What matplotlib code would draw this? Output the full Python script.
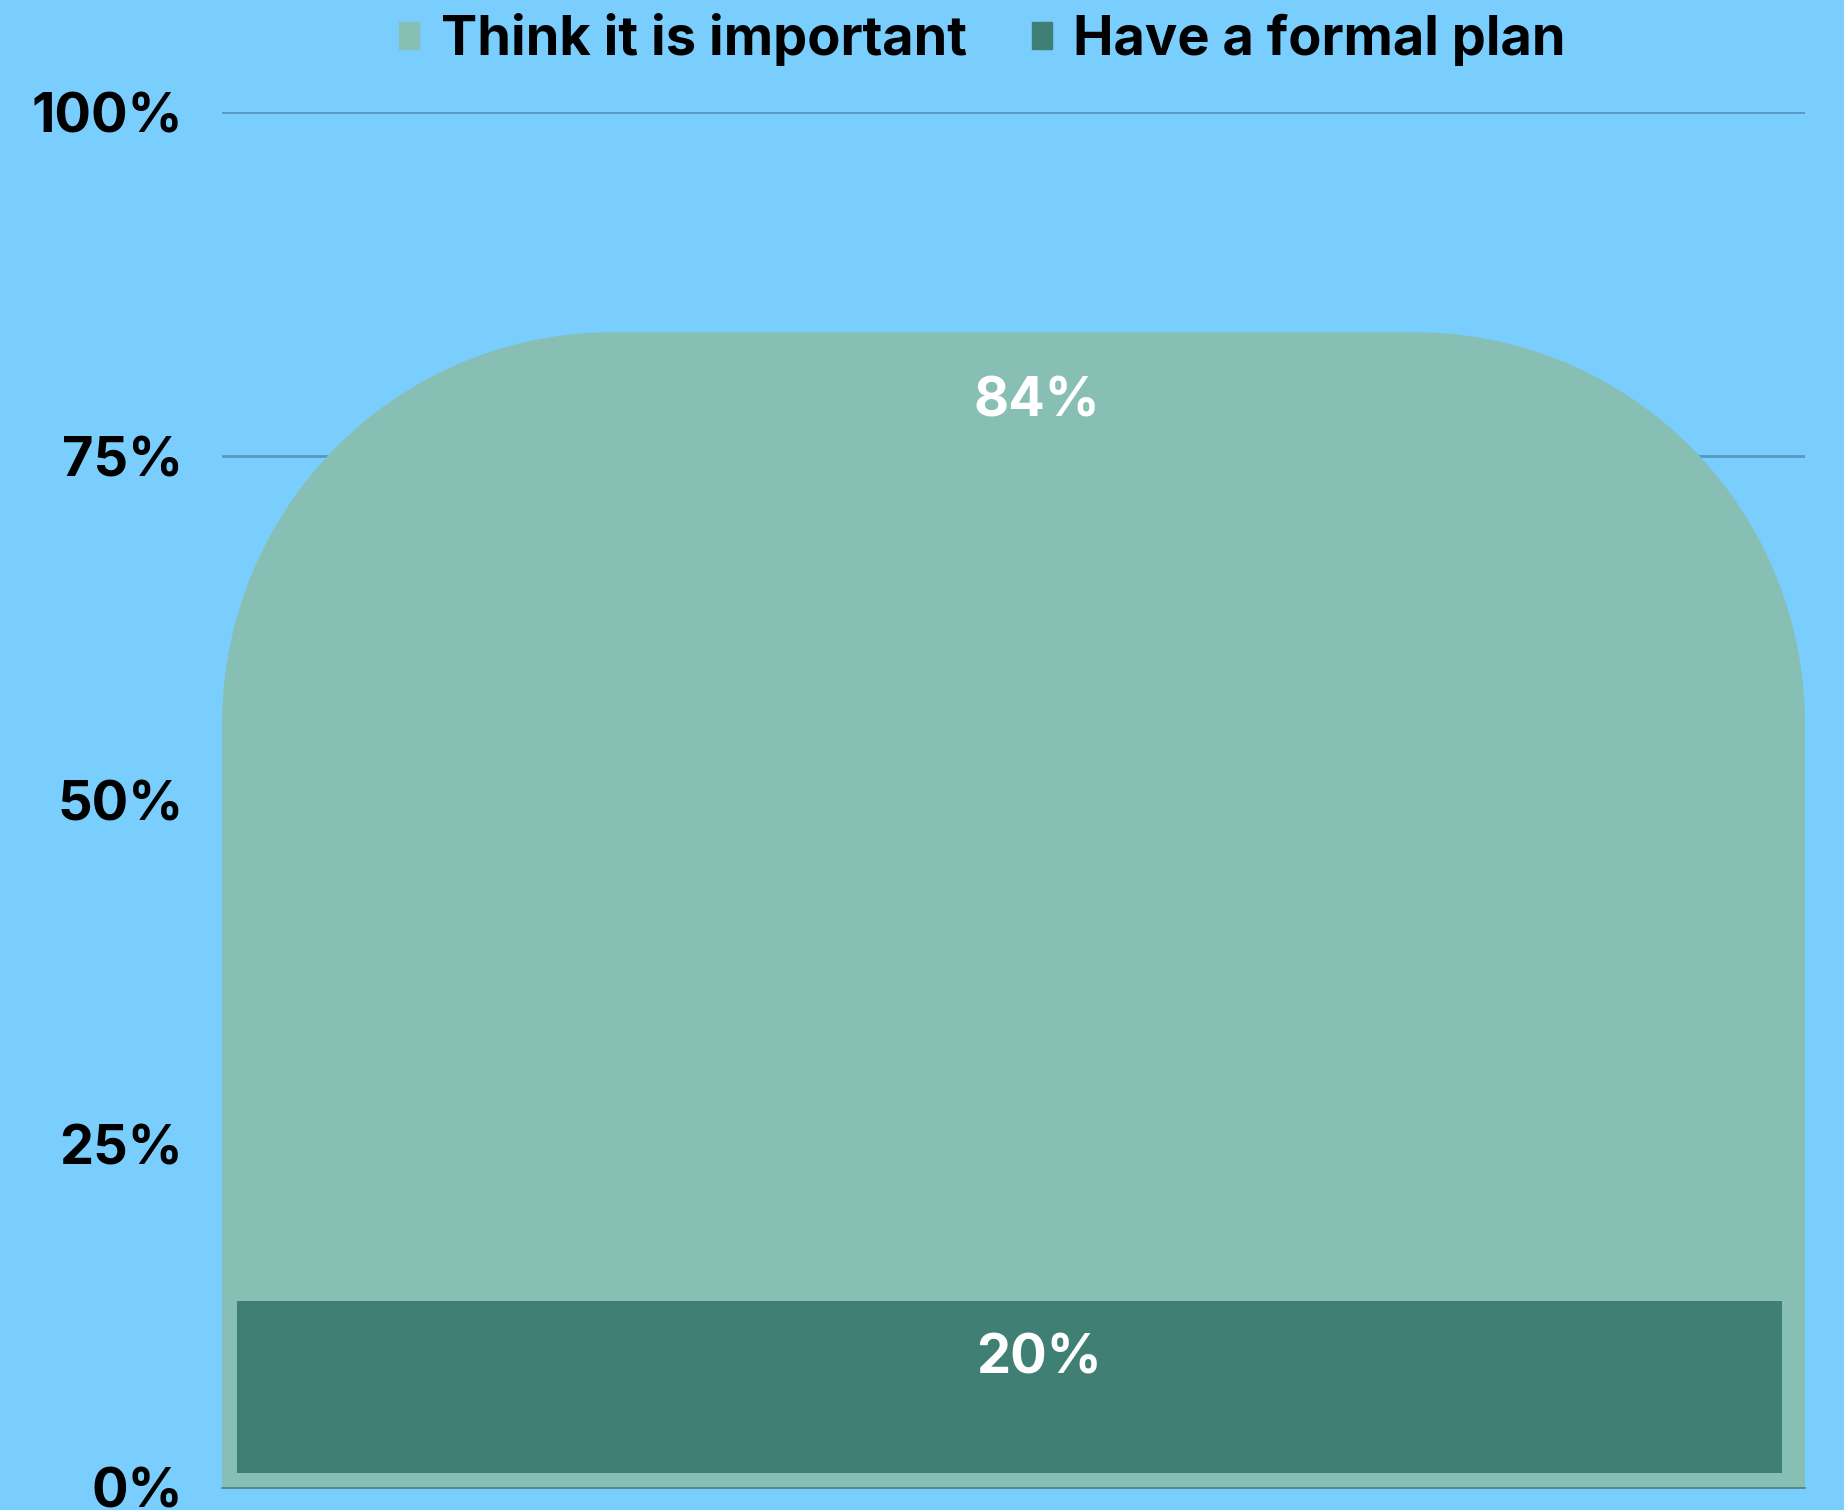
import numpy as np
import matplotlib.pyplot as plt
from matplotlib.patches import Patch, PathPatch
from matplotlib.path import Path

plt.rcParams['font.family'] = ['Inter', 'DejaVu Sans']

series = ["Think it is important", "Have a formal plan"]
important = [84]
formal_plan = [20]
yticks = [0, 25, 50, 75, 100]
ytick_labels = ["0%", "25%", "50%", "75%", "100%"]

bg = "#7acefe"
light = "#87bfb4"
dark = "#408074"
grid_c = "#5797c2"

# the inner bar is drawn smaller than its label in the source chart
inner_scale = 0.625
inner_pad = 1.1

fig = plt.figure(figsize=(18.44, 15.10), dpi=100, facecolor=bg)
ax = fig.add_axes([0.1204, 0.01457, 0.8585, 0.9112])
ax.set_facecolor(bg)
ax.set_xlim(-0.5, 0.5)
ax.set_ylim(0, 100)

for t in yticks[1:]:
    ax.axhline(t, color=grid_c, lw=2.0, zorder=0)

# outer bar with rounded top corners
bars = ax.bar([0], important, width=1.0, color=light, zorder=2)
b = bars[0]
bars[0].set_visible(False)
x0, w, h = b.get_x(), b.get_width(), b.get_height()
rx = 390 / 1583 * (ax.get_xlim()[1] - ax.get_xlim()[0])
ry = 392 / 1376 * 100
th = np.linspace(np.pi, np.pi / 2, 60)
left_arc = np.column_stack([x0 + rx + rx * np.cos(th), h - ry + ry * np.sin(th)])
th2 = np.linspace(np.pi / 2, 0, 60)
right_arc = np.column_stack([x0 + w - rx + rx * np.cos(th2), h - ry + ry * np.sin(th2)])
verts = np.vstack([[x0, 0], left_arc, right_arc, [x0 + w, 0], [x0, 0]])
ax.add_patch(PathPatch(Path(verts), facecolor=light, edgecolor='none', zorder=2))

inner = ax.bar([-0.0025], [v * inner_scale for v in formal_plan], width=0.976,
               bottom=inner_pad, color=dark, zorder=3)

fs = 39
ax.annotate(f"{important[0]}%", (0, important[0]), xytext=(16.5, -50),
            textcoords='offset points', ha='center', va='center',
            color='white', fontsize=fs, fontweight='bold', zorder=4)
ax.annotate(f"{formal_plan[0]}%", (0, inner_pad + formal_plan[0] * inner_scale),
            xytext=(18, -42), textcoords='offset points', ha='center', va='center',
            color='white', fontsize=fs, fontweight='bold', zorder=4)

ax.set_yticks(yticks)
ax.set_yticklabels(ytick_labels, fontsize=fs, fontweight='bold')
ax.set_xticks([])
ax.tick_params(axis='y', length=0, pad=28)
for s in ['top', 'right', 'left']:
    ax.spines[s].set_visible(False)
ax.spines['bottom'].set_color('#4d7f80')
ax.spines['bottom'].set_linewidth(1.2)
ax.spines['bottom'].set_zorder(5)

handles = [Patch(color=light), Patch(color=dark)]
leg = fig.legend(handles, series, loc='center', bbox_to_anchor=(0.5327, 0.974),
                 ncol=2, frameon=False, handlelength=0.37,
                 handleheight=0.37, handletextpad=0.39, columnspacing=1.2,
                 prop={'weight': 'bold', 'size': fs})

fig.savefig("out.png", dpi=100, facecolor=bg)
